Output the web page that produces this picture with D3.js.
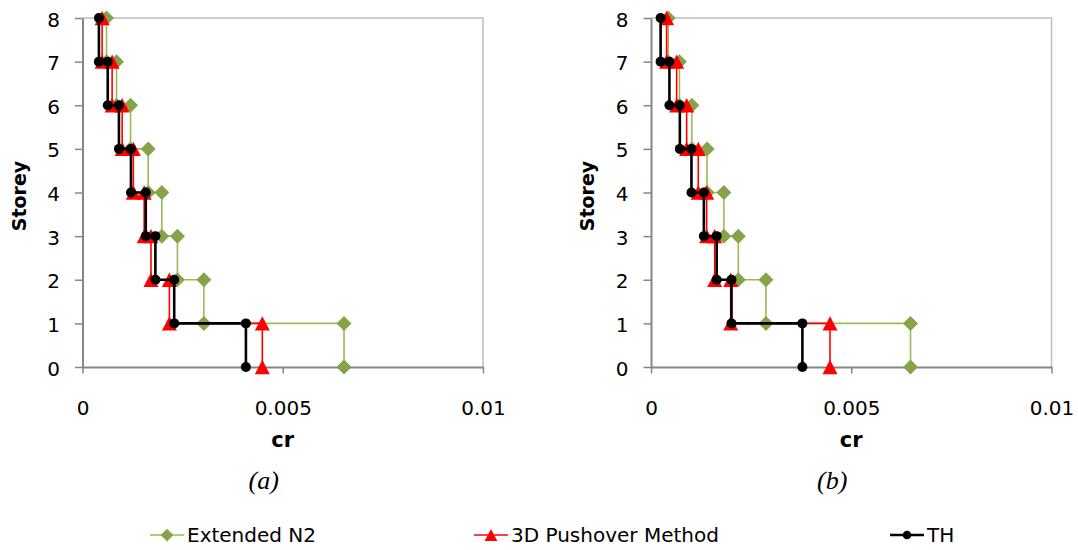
<!DOCTYPE html>
<html>
<head>
<meta charset="utf-8">
<script src="https://cdn.jsdelivr.net/npm/d3@7"></script>
<style>
  html, body { margin: 0; padding: 0; background: #fff; }
  svg { display: block; }
  text { font-family: "DejaVu Sans", "Liberation Sans", sans-serif; fill: #000; }
</style>
</head>
<body>
<svg id="chart" width="1078" height="550"></svg>
<script>
// Storey drift ratio (cr) per storey, storeys 1..8
const storeys = [1, 2, 3, 4, 5, 6, 7, 8];

// Panel (a)
const n2A = [0.00653, 0.00303, 0.00237, 0.00198, 0.00164, 0.00120, 0.00085, 0.00060];
const pushA = [0.00449, 0.00217, 0.00171, 0.00154, 0.00127, 0.00099, 0.00074, 0.00049];
const thA = [0.00408, 0.00229, 0.00182, 0.00158, 0.00121, 0.00091, 0.00063, 0.00041];

// Panel (b)
const n2B = [0.00648, 0.00287, 0.00218, 0.00182, 0.00140, 0.00102, 0.00071, 0.00043];
const pushB = [0.00447, 0.00199, 0.00159, 0.00139, 0.00118, 0.00089, 0.00064, 0.00039];
const thB = [0.00378, 0.00201, 0.00164, 0.00132, 0.00101, 0.00072, 0.00046, 0.00024];

const xTicks = [0, 0.005, 0.01];
const xTickLabels = ["0", "0.005", "0.01"];
const yTicks = [0, 1, 2, 3, 4, 5, 6, 7, 8];

const seriesNames = ["Extended N2", "3D Pushover Method", "TH"];

const svg = d3.select("#chart");

const styles = {
  "Extended N2": { line: "#9BBB59", width: 1.6, fill: "#86A34A", shape: "diamond" },
  "3D Pushover Method": { line: "#FF0000", width: 1.6, fill: "#FF0000", shape: "triangle" },
  "TH": { line: "#000000", width: 2.6, fill: "#000000", shape: "circle" }
};

function markerPath(shape, k) {
  k = k || 1;
  if (shape === "diamond") {
    const s = 7.5 * k;
    return `M0,${-s}L${s},0L0,${s}L${-s},0Z`;
  }
  if (shape === "triangle") {
    const w = 7.5 * k, h = 7.2 * k;
    return `M0,${-h}L${w},${h}L${-w},${h}Z`;
  }
  const r = 5 * k;
  return `M${r},0A${r},${r} 0 1,1 ${-r},0A${r},${r} 0 1,1 ${r},0Z`;
}

// Step profile: each storey's value spans from the floor below to the floor above
function stepPoints(values) {
  const pts = [];
  for (let i = values.length - 1; i >= 0; i--) {
    pts.push({ x: values[i], y: storeys[i] });
    pts.push({ x: values[i], y: storeys[i] - 1 });
  }
  return pts;
}

function drawPanel(cfg) {
  const x = d3.scaleLinear().domain([0, 0.01]).range([cfg.x0, cfg.x1]);
  const y = d3.scaleLinear().domain([0, 8]).range([367, 18]);
  const g = svg.append("g");

  // plot frame (top and right)
  g.append("path")
    .attr("d", `M${x(0)},${y(8)}H${x(0.01)}V${y(0)}`)
    .attr("fill", "none")
    .attr("stroke", "#BFBFBF")
    .attr("stroke-width", 1.5);

  const yAxis = d3.axisLeft(y).tickValues(yTicks).tickFormat(d3.format("d"))
    .tickSize(7.5).tickSizeOuter(0).tickPadding(15);
  const yG = g.append("g").attr("transform", `translate(${x(0)},0)`).call(yAxis);

  const xAxis = d3.axisBottom(x).tickValues(xTicks)
    .tickFormat((d, i) => xTickLabels[i])
    .tickSize(6.5).tickSizeOuter(0).tickPadding(27);
  const xG = g.append("g").attr("transform", `translate(0,${y(0)})`).call(xAxis);

  [yG, xG].forEach(a => {
    a.select(".domain").attr("stroke", "#868686").attr("stroke-width", 2);
    a.selectAll(".tick line").attr("stroke", "#868686").attr("stroke-width", 1.5);
    a.selectAll(".tick text").attr("font-size", 20)
      .attr("font-family", "DejaVu Sans, sans-serif").attr("fill", "#000");
  });
  yG.selectAll(".tick text").attr("dy", "0.4em");

  const line = d3.line().x(d => x(d.x)).y(d => y(d.y));

  cfg.series.forEach(s => {
    const st = styles[s.name];
    const pts = stepPoints(s.values);
    g.append("path")
      .datum(pts)
      .attr("d", line)
      .attr("fill", "none")
      .attr("stroke", st.line)
      .attr("stroke-width", st.width)
      .attr("stroke-linejoin", "round");
    g.selectAll(null)
      .data(pts)
      .enter()
      .append("path")
      .attr("d", markerPath(st.shape))
      .attr("transform", d => `translate(${x(d.x)},${y(d.y)})`)
      .attr("fill", st.fill);
  });

  // axis titles and panel caption
  g.append("text")
    .attr("x", (cfg.x0 + cfg.x1) / 2)
    .attr("y", 447)
    .attr("text-anchor", "middle")
    .attr("font-size", 21)
    .attr("font-weight", "bold")
    .text("cr");

  g.append("text")
    .attr("transform", `translate(${cfg.x0 - 57},${196}) rotate(-90)`)
    .attr("text-anchor", "middle")
    .attr("font-size", 19)
    .attr("font-weight", "bold")
    .text("Storey");

  g.append("text")
    .attr("x", (cfg.x0 + cfg.x1) / 2 - 19)
    .attr("y", 489)
    .attr("text-anchor", "middle")
    .attr("font-size", 26)
    .attr("font-style", "italic")
    .style("font-family", "'Liberation Serif', 'Times New Roman', serif")
    .text(cfg.caption);
}

drawPanel({
  x0: 82.5, x1: 483, caption: "(a)",
  series: [
    { name: "Extended N2", values: n2A },
    { name: "3D Pushover Method", values: pushA },
    { name: "TH", values: thA }
  ]
});

drawPanel({
  x0: 651, x1: 1051.5, caption: "(b)",
  series: [
    { name: "Extended N2", values: n2B },
    { name: "3D Pushover Method", values: pushB },
    { name: "TH", values: thB }
  ]
});

// Legend
const legendX = [150, 474, 890];
const legend = svg.append("g").attr("transform", "translate(0,535)");
seriesNames.forEach((name, i) => {
  const st = styles[name];
  const lg = legend.append("g").attr("transform", `translate(${legendX[i]},0)`);
  lg.append("line").attr("x1", 0).attr("x2", 34).attr("y1", 0).attr("y2", 0)
    .attr("stroke", st.line).attr("stroke-width", st.width);
  lg.append("path").attr("d", markerPath(st.shape, 0.85))
    .attr("transform", "translate(17,0)").attr("fill", st.fill);
  lg.append("text").attr("x", 37).attr("y", 0).attr("dy", "0.36em")
    .attr("font-size", 20).text(name);
});
</script>
</body>
</html>
